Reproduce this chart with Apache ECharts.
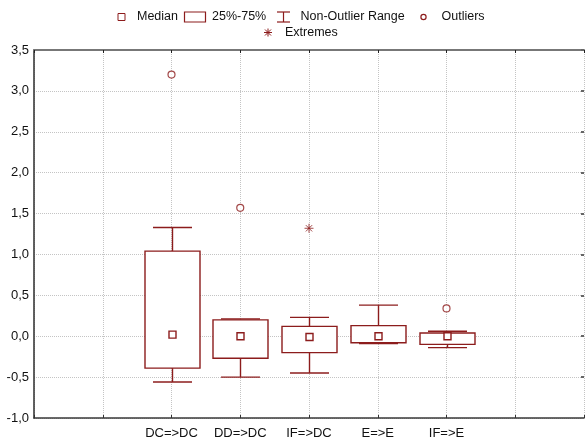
<!DOCTYPE html>
<html>
<head>
<meta charset="utf-8">
<script src="https://cdn.jsdelivr.net/npm/echarts@6/dist/echarts.min.js"></script>
<style>
html,body{margin:0;padding:0;background:#fff;}
#chart{width:587px;height:442px;}
</style>
</head>
<body>
<div id="chart"></div>
<script>
// ---- data ----
const categories = ['DC=>DC', 'DD=>DC', 'IF=>DC', 'E=>E', 'IF=>E'];
const whiskerLow  = [-0.56, -0.50, -0.45, -0.09, -0.14];
const quartile1   = [-0.39, -0.27, -0.20, -0.08, -0.10];
const medians     = [ 0.02,  0.00, -0.01,  0.00,  0.00];
const quartile3   = [ 1.04,  0.20,  0.12,  0.13,  0.04];
const whiskerHigh = [ 1.33,  0.21,  0.23,  0.38,  0.06];
const outlierCats = ['DC=>DC', 'DD=>DC', 'IF=>E'];
const outlierVals = [3.20, 1.57, 0.34];
const extremeCats = ['IF=>DC'];
const extremeVals = [1.32];
const yTicks = [-1.0, -0.5, 0.0, 0.5, 1.0, 1.5, 2.0, 2.5, 3.0, 3.5];

// ---- layout helpers ----
const OFFSET = 2;            // category slots start at axis position 2
const COL = '#8c1c1c';
const FONT = '"Liberation Sans", Arial, sans-serif';

const boxData = categories.map((c, i) => [i + OFFSET, whiskerLow[i], quartile1[i], medians[i], quartile3[i], whiskerHigh[i]]);
const outData = outlierCats.map((c, i) => [categories.indexOf(c) + OFFSET, outlierVals[i]]);
const extData = extremeCats.map((c, i) => [categories.indexOf(c) + OFFSET, extremeVals[i]]);

const BOXW = 55, CAPW = 39, MEDS = 7, LW = 1.4;

function renderBox(params, api) {
  const x = api.value(0);
  const lo = api.coord([x, api.value(1)]);
  const q1 = api.coord([x, api.value(2)]);
  const md = api.coord([x, api.value(3)]);
  const q3 = api.coord([x, api.value(4)]);
  const hi = api.coord([x, api.value(5)]);
  const cx = Math.round(lo[0]) + 0.5;
  const ls = {stroke: COL, lineWidth: LW, fill: null};
  return {
    type: 'group',
    children: [
      {type: 'line', shape: {x1: cx, y1: hi[1], x2: cx, y2: q3[1]}, style: ls},
      {type: 'line', shape: {x1: cx, y1: q1[1], x2: cx, y2: lo[1]}, style: ls},
      {type: 'line', shape: {x1: cx - CAPW / 2, y1: hi[1], x2: cx + CAPW / 2, y2: hi[1]}, style: ls},
      {type: 'line', shape: {x1: cx - CAPW / 2, y1: lo[1], x2: cx + CAPW / 2, y2: lo[1]}, style: ls},
      {type: 'rect', shape: {x: cx - BOXW / 2, y: q3[1], width: BOXW, height: q1[1] - q3[1]},
        style: {stroke: COL, lineWidth: LW, fill: '#fff'}},
      {type: 'rect', shape: {x: cx - MEDS / 2, y: md[1] - MEDS / 2, width: MEDS, height: MEDS},
        style: {stroke: COL, lineWidth: LW, fill: '#fff'}}
    ]
  };
}

const asterisk = 'path://M0,5L10,5M5,0L5,10M1.5,1.5L8.5,8.5M8.5,1.5L1.5,8.5';

const legendY1 = 17, legendY2 = 32.5;
const txt = (t, x, y) => ({type: 'text', x: x, y: y,
  style: {text: t, font: '12.5px ' + FONT, fill: '#111', textVerticalAlign: 'middle'}});
const seg = (x1, y1, x2, y2, w) => ({type: 'line', shape: {x1: x1, y1: y1, x2: x2, y2: y2},
  style: {stroke: COL, lineWidth: w || 1.2}});
const ax = 268, ay = legendY2;
const graphic = [
  {type: 'rect', shape: {x: 118, y: legendY1 - 3.5, width: 7, height: 7}, style: {stroke: COL, lineWidth: 1, fill: '#fff'}},
  txt('Median', 137, legendY1),
  {type: 'rect', shape: {x: 184.5, y: 12, width: 21, height: 10}, style: {stroke: COL, lineWidth: 1.2, fill: '#fff'}},
  txt('25%-75%', 212, legendY1),
  seg(277, 12, 290, 12),
  seg(283.5, 12, 283.5, 22),
  seg(277, 22, 290, 22),
  txt('Non-Outlier Range', 300.5, legendY1),
  {type: 'circle', shape: {cx: 423.5, cy: legendY1, r: 2.6}, style: {stroke: COL, lineWidth: 1.2, fill: '#fff'}},
  txt('Outliers', 441.5, legendY1),
  seg(ax - 4, ay, ax + 4, ay, 1),
  seg(ax, ay - 4, ax, ay + 4, 1),
  seg(ax - 3, ay - 3, ax + 3, ay + 3, 1),
  seg(ax + 3, ay - 3, ax - 3, ay + 3, 1),
  txt('Extremes', 285, legendY2)
];

const gridLine = {show: true, lineStyle: {color: '#c4c4c4', type: 'dotted', width: 1}};
const axisLineStyle = {show: true, onZero: false, lineStyle: {color: '#3a3a3a', width: 1.6}};

const chart = echarts.init(document.getElementById('chart'), null, {renderer: 'canvas'});
chart.setOption({
  animation: false,
  backgroundColor: '#fff',
  textStyle: {fontFamily: FONT},
  graphic: graphic,
  grid: {left: 34, top: 50, width: 554, height: 368, containLabel: false},
  xAxis: [
    {type: 'value', position: 'bottom', min: 0, max: categories.length + 2 * OFFSET - 1, interval: 1,
      axisLine: axisLineStyle,
      axisTick: {show: true, inside: true, length: 3, lineStyle: {color: '#333'}},
      splitLine: gridLine,
      axisLabel: {show: true, margin: 9, fontSize: 13, color: '#111', fontFamily: FONT,
        showMinLabel: true, showMaxLabel: true,
        formatter: v => categories[v - OFFSET] || ''}},
    {type: 'value', position: 'top', min: 0, max: categories.length + 2 * OFFSET - 1, interval: 1,
      axisLine: {show: true, onZero: false, lineStyle: {color: '#777', width: 2}},
      axisTick: {show: true, inside: true, length: 3, lineStyle: {color: '#222'}},
      splitLine: {show: false}, axisLabel: {show: false}}
  ],
  yAxis: [
    {type: 'value', position: 'left', min: yTicks[0], max: yTicks[yTicks.length - 1], interval: 0.5,
      axisLine: axisLineStyle,
      axisTick: {show: false},
      splitLine: gridLine,
      axisLabel: {margin: 5, fontSize: 13, color: '#111', fontFamily: FONT,
        formatter: v => v.toFixed(1).replace('.', ',')}},
    {type: 'value', position: 'right', min: yTicks[0], max: yTicks[yTicks.length - 1], interval: 0.5,
      axisLine: {show: false, onZero: false},
      axisTick: {show: true, inside: true, length: 3, lineStyle: {color: '#666', width: 2}},
      splitLine: {show: false}, axisLabel: {show: false}}
  ],
  series: [
    {name: 'Box', type: 'custom', renderItem: renderBox, data: boxData, xAxisIndex: 0, yAxisIndex: 0,
      encode: {x: 0, y: [1, 2, 3, 4, 5]}, z: 3},
    {name: 'Outliers', type: 'scatter', data: outData, symbol: 'circle', symbolSize: 7,
      itemStyle: {color: '#fff', borderColor: COL, borderWidth: 1.2}, z: 4},
    {name: 'Extremes', type: 'scatter', data: extData, symbol: asterisk, symbolSize: 9,
      itemStyle: {color: 'rgba(0,0,0,0)', borderColor: COL, borderWidth: 1}, z: 4}
  ]
});
</script>
</body>
</html>
